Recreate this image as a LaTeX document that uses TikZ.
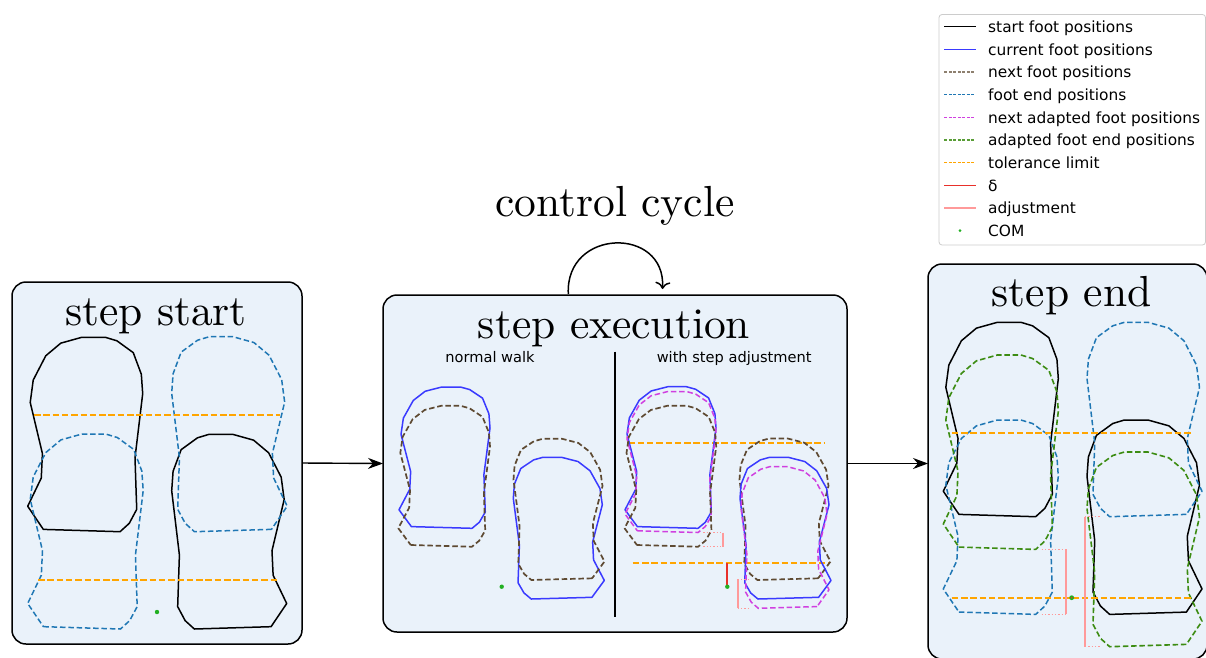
\documentclass[tikz,border=0pt]{standalone}
\usepackage{fontspec}
\newfontfamily\sansf{DejaVu Sans}
\newfontfamily\titlef{lmroman10-regular.otf}
\usetikzlibrary{arrows.meta}
\definecolor{panelfill}{HTML}{EAF2FA}
\definecolor{curblue}{HTML}{3A3AFF}
\definecolor{nextbrown}{HTML}{5E4A32}
\definecolor{endblue}{HTML}{1F77B4}
\definecolor{adaptmag}{HTML}{D040E0}
\definecolor{adaptgreen}{HTML}{3C8C12}
\definecolor{tolorange}{HTML}{FFA500}
\definecolor{deltared}{HTML}{E8302A}
\definecolor{adjpink}{HTML}{FF9A9A}
\definecolor{comgreen}{HTML}{22B022}
\definecolor{legborder}{HTML}{CCCCCC}
\newcommand{\drawfootL}[5]{\draw[#1,shift={(#2,#3)},xscale=#4,yscale=#5] (0.136,0.988) -- (0.803,1.0) -- (0.883,0.957) -- (0.948,0.885) -- (0.933,0.62) -- (1.0,0.29) -- (0.988,0.19) -- (0.918,0.079) -- (0.776,0.018) -- (0.675,0.0) -- (0.47,0.0) -- (0.288,0.03) -- (0.157,0.095) -- (0.048,0.22) -- (0.022,0.335) -- (0.128,0.598) -- (0.118,0.724) -- (0.0,0.869) -- cycle;}
\newcommand{\drawfootR}[5]{\draw[#1,shift={(#2+#4,#3)},xscale=-#4,yscale=#5] (0.136,0.988) -- (0.803,1.0) -- (0.883,0.957) -- (0.948,0.885) -- (0.933,0.62) -- (1.0,0.29) -- (0.988,0.19) -- (0.918,0.079) -- (0.776,0.018) -- (0.675,0.0) -- (0.47,0.0) -- (0.288,0.03) -- (0.157,0.095) -- (0.048,0.22) -- (0.022,0.335) -- (0.128,0.598) -- (0.118,0.724) -- (0.0,0.869) -- cycle;}
\tikzset{
  panel/.style={draw=black, line width=1.5pt, fill=panelfill, rounded corners=14pt, inner sep=0pt, outer sep=0pt},
  flowarrow/.style={-{Stealth[length=15pt,width=11pt]}, line width=1.4pt},
  titletext/.style={font=\titlef\fontsize{43.5}{50}\selectfont, inner sep=0pt},
  subtext/.style={font=\sansf\fontsize{14.6}{17}\selectfont, inner sep=0pt, anchor=base},
  legtext/.style={font=\sansf\fontsize{15.4}{18}\selectfont, inner sep=0pt, anchor=base west},
  sfoot/.style={black, line width=1.5pt, line join=round},
  cfoot/.style={curblue, line width=1.5pt, line join=round},
  nfoot/.style={nextbrown, line width=1.7pt, dash pattern=on 5.5pt off 2.8pt, line join=round},
  efoot/.style={endblue, line width=1.5pt, dash pattern=on 5.5pt off 2.8pt, line join=round},
  afoot/.style={adaptmag, line width=1.5pt, dash pattern=on 5.5pt off 2.8pt, line join=round},
  gfoot/.style={adaptgreen, line width=1.6pt, dash pattern=on 5.5pt off 2.8pt, line join=round},
  tolline/.style={tolorange, line width=1.7pt, dash pattern=on 6.5pt off 2.8pt},
  deltaline/.style={deltared, line width=1.9pt},
  adjline/.style={adjpink, line width=1.7pt},
  adjdot/.style={adjpink, line width=1.3pt, dash pattern=on 1.3pt off 2pt},
  legsample/.style={line width=1.3pt},
}
\begin{document}
\begin{tikzpicture}[x=1pt,y=-1pt]
\useasboundingbox (0,0) rectangle (1206,657);
% panels
\node[panel, minimum width=290pt, minimum height=362pt] (start) at (157,463) {};
\node[panel, minimum width=464pt, minimum height=337pt] (exec) at (615,463.5) {};
\node[panel, minimum width=279pt, minimum height=395pt] (end) at (1067.5,461.5) {};
% titles
\node[titletext, anchor=base] (tstart) at (156,325) {step start};
\node[titletext, anchor=base] (texec) at (614,338.3) {step execution};
\node[titletext, anchor=base] (tend) at (1071.5,306.7) {step end};
\node[titletext, anchor=base] (tcycle) at (615,216.7) {control cycle};
% arrows
\draw[flowarrow] (start.east) -- (exec.west);
\draw[flowarrow] (exec.east) -- (exec.east -| end.west);
\coordinate (cycA) at (568.3,294);
\coordinate (cycB) at (662.5,289);
\draw[line width=1.5pt, -{To[length=7pt,width=15pt]}] (cycA) .. controls (565,228) and (666,226) .. (cycB);
% ---------- step start
\drawfootL{sfoot}{27.7}{337.3}{115}{194.4}
\drawfootR{sfoot}{171.7}{434.3}{115}{194.7}
\drawfootL{efoot}{27.7}{434}{115.5}{195}
\drawfootR{efoot}{171.7}{336.7}{115.5}{195}
\draw[tolline] (34,415) -- (280,415);
\draw[tolline] (38,580) -- (277,580);
\fill[comgreen] (157,612) circle (2.2pt);
% ---------- step execution
\draw[line width=1.2pt] (615,351.7) -- (615,616.7);
\node[subtext] (tnormal) at (490,362.7) {normal walk};
\node[subtext] (tadj) at (734.2,362.7) {with step adjustment};
% normal walk
\drawfootL{cfoot}{399}{387}{91}{141.3}
\drawfootL{nfoot}{398.3}{405.7}{91.7}{141}
\drawfootR{cfoot}{513.3}{457.3}{91}{141.7}
\drawfootR{nfoot}{513.5}{438.7}{91}{141.3}
\fill[comgreen] (501.7,586.7) circle (2.2pt);
% with step adjustment
\draw[tolline] (628.3,443.3) -- (825,443.3);
\draw[tolline] (632.7,563.3) -- (828.3,563.3);
\drawfootL{cfoot}{625}{386.7}{91}{141.6}
\drawfootL{afoot}{625}{391.5}{91}{141}
\drawfootL{nfoot}{624.5}{405.7}{91.7}{141}
\drawfootR{nfoot}{739.5}{438.5}{91}{141.5}
\drawfootR{cfoot}{740}{457.3}{91}{141.7}
\drawfootR{afoot}{741}{466.7}{88}{141.6}
\draw[adjdot] (703.3,532.7) -- (722.7,532.7);
\draw[adjdot] (703.3,546.7) -- (722.7,546.7);
\draw[adjline] (722.7,532.7) -- (722.7,546.7);
\draw[adjdot] (737.7,579.3) -- (748.3,579.3);
\draw[adjdot] (737.7,608.3) -- (748.3,608.3);
\draw[adjline] (737.7,579.3) -- (737.7,608.3);
\draw[deltaline] (727.3,563.3) -- (727.3,586.7);
\fill[comgreen] (727.3,586.7) circle (2.2pt);
% ---------- step end
\drawfootL{sfoot}{943.3}{322.3}{115}{194.4}
\drawfootR{sfoot}{1087}{420}{115}{194.4}
\drawfootL{efoot}{943.3}{420}{115}{194.4}
\drawfootR{efoot}{1087}{322.3}{115}{194.4}
\drawfootL{gfoot}{943.3}{355}{115}{194.4}
\drawfootR{gfoot}{1087}{452}{115}{194.7}
\draw[tolline] (951.7,432.7) -- (1191.7,432.7);
\draw[tolline] (951.7,597.7) -- (1191.7,597.7);
\draw[adjdot] (1041.7,549.3) -- (1066,549.3);
\draw[adjdot] (1041.7,614.3) -- (1066,614.3);
\draw[adjline] (1066,549.3) -- (1066,614.3);
\draw[adjdot] (1085,516.7) -- (1100.7,516.7);
\draw[adjdot] (1085,646.7) -- (1100.7,646.7);
\draw[adjline] (1085,516.7) -- (1085,646.7);
\fill[comgreen] (1071.7,597.7) circle (2.4pt);
\fill[deltared] (1071.7,597.7) circle (0.9pt);
% ---------- legend
\node[draw=legborder, fill=white, rounded corners=3pt, line width=0.8pt, minimum width=266.5pt, minimum height=230.5pt, inner sep=0pt] (legend) at (1072.25,129.75) {};
\draw[legsample, black] (944.3,26.7) -- (975.7,26.7);
\node[legtext] (l1) at (988,32.3) {start foot positions};
\draw[legsample, curblue] (944.3,49.4) -- (975.7,49.4);
\node[legtext] (l2) at (988,55.0) {current foot positions};
\draw[legsample, nextbrown!70, dash pattern=on 3pt off 1.5pt] (944.3,72.0) -- (975.7,72.0);
\node[legtext] (l3) at (988,77.6) {next foot positions};
\draw[legsample, endblue, dash pattern=on 3pt off 1.5pt] (944.3,94.7) -- (975.7,94.7);
\node[legtext] (l4) at (988,100.3) {foot end positions};
\draw[legsample, adaptmag, dash pattern=on 3pt off 1.5pt] (944.3,117.4) -- (975.7,117.4);
\node[legtext] (l5) at (988,123.0) {next adapted foot positions};
\draw[legsample, adaptgreen!85, dash pattern=on 3pt off 1.5pt] (944.3,140.0) -- (975.7,140.0);
\node[legtext] (l6) at (988,145.6) {adapted foot end positions};
\draw[legsample, tolorange, dash pattern=on 3pt off 1.5pt] (944.3,162.7) -- (975.7,162.7);
\node[legtext] (l7) at (988,168.3) {tolerance limit};
\draw[legsample, deltared] (944.3,185.4) -- (975.7,185.4);
\node[legtext] (l8) at (988,191.0) {δ};
\draw[legsample, adjpink, line width=1.8pt] (944.3,208.0) -- (975.7,208.0);
\node[legtext] (l9) at (988,213.6) {adjustment};
\fill[comgreen] (960,230.7) circle (1.5pt);
\node[legtext] (l10) at (988,236.3) {COM};
\end{tikzpicture}
\end{document}
